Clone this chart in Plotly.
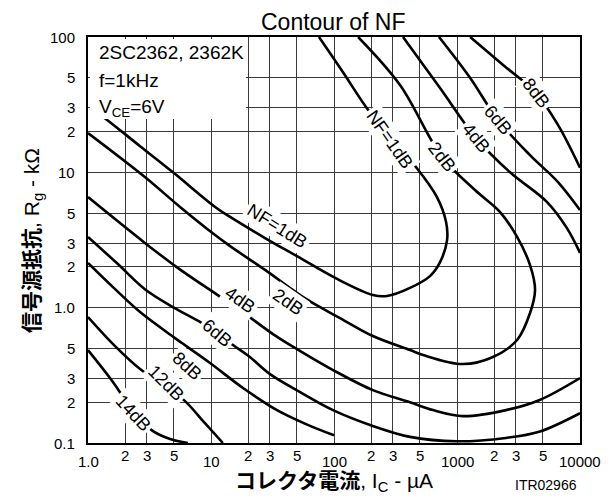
import numpy as np
import plotly.graph_objects as go

# ---- data (Ic in uA, Rg in kOhm) ----
nf1_ic = [1.14, 1.43, 2.65, 4.91, 10.8, 14.3, 27.5, 50.0, 106, 207, 270, 415, 603, 728, 830, 815, 687, 465, 285, 182, 118, 75.5]
nf1_rg = [28.4, 24.4, 15.6, 10.0, 5.55, 4.68, 3.27, 2.40, 1.63, 1.24, 1.22, 1.40, 1.71, 2.17, 3.16, 4.30, 6.56, 10.9, 17.9, 30.4, 55.1, 100]

nf2_ic = [1.0, 2.90, 5.60, 10.8, 14.3, 27.5, 59.2, 112, 207, 415, 530, 1120, 1960, 3080, 3920, 4310, 3920, 3080, 2240, 1400, 755, 344, 157]
nf2_rg = [19.5, 9.23, 5.55, 3.44, 2.85, 1.90, 1.16, 0.838, 0.617, 0.486, 0.447, 0.383, 0.432, 0.577, 0.91, 1.35, 2.07, 3.33, 5.09, 7.40, 13.0, 44.2, 100]

nf4a_ic = [1.0, 2.90, 5.40, 9.27, 17.2, 31.9, 50.0, 98.2, 207, 415, 638, 1120, 2500, 4650, 10000]
nf4a_rg = [6.56, 3.01, 1.96, 1.40, 0.96, 0.638, 0.494, 0.346, 0.246, 0.200, 0.175, 0.158, 0.175, 0.207, 0.302]
nf4b_ic = [364, 728, 1430, 2700, 5400, 7830, 10000]
nf4b_rg = [100, 42.0, 17.9, 10.0, 6.03, 3.87, 2.54]

nf6a_ic = [1.0, 1.75, 2.90, 4.91, 8.45, 11.2, 15.1, 20.7, 30.2, 53.0, 98.2, 196, 415, 1000, 2500, 4650, 10000]
nf6a_rg = [3.33, 2.10, 1.37, 1.01, 0.769, 0.649, 0.530, 0.432, 0.323, 0.238, 0.175, 0.136, 0.111, 0.103, 0.109, 0.121, 0.166]
nf6b_ic = [714, 1280, 2150, 3920, 6620, 10000]
nf6b_rg = [100, 49.8, 24.4, 13.4, 8.47, 5.26]

nf8a_ic = [1.0, 1.66, 2.65, 5.10, 9.82, 18.2, 34.4, 59.2, 100]
nf8a_rg = [2.14, 1.37, 0.928, 0.596, 0.390, 0.255, 0.175, 0.138, 0.114]
nf8b_ic = [1280, 2370, 4390, 6620, 10000]
nf8b_rg = [100, 62.1, 38.5, 22.4, 10.8]

nf12_ic = [1.0, 1.66, 2.65, 4.23, 6.15, 8.93, 12.5]
nf12_rg = [0.853, 0.520, 0.352, 0.264, 0.204, 0.140, 0.100]

nf14_ic = [1.0, 1.51, 2.32, 3.31, 4.65, 6.50]
nf14_rg = [0.486, 0.302, 0.175, 0.124, 0.107, 0.100]

# curve labels: text, Ic, Rg, angle
label_text = ["NF=1dB", "2dB", "4dB", "6dB", "8dB", "NF=1dB", "2dB", "4dB", "6dB", "8dB", "12dB", "14dB"]
label_ic = [285, 755, 1430, 2150, 4390, 34.4, 42.3, 17.2, 11.2, 6.38, 4.31, 2.32]
label_rg = [17.3, 13.0, 17.9, 24.4, 38.5, 4.01, 1.10, 1.14, 0.649, 0.370, 0.277, 0.166]
label_ang = [55, 52, 50, 50, 52, 32, 35, 35, 40, 42, 45, 47]

x_ticks = [1, 2, 3, 5, 10, 20, 30, 50, 100, 200, 300, 500, 1000, 2000, 3000, 5000, 10000]
x_tick_text = ["1.0", "2", "3", "5", "10", "2", "3", "5", "100", "2", "3", "5", "1000", "2", "3", "5", "10000"]
y_ticks = [0.1, 0.2, 0.3, 0.5, 1, 2, 3, 5, 10, 20, 30, 50, 100]
y_tick_text = ["0.1", "2", "3", "5", "1.0", "2", "3", "5", "10", "2", "3", "5", "100"]

FONT = "Liberation Sans, Arial, Noto Sans CJK JP, sans-serif"

fig = go.Figure()
curves = [(nf1_ic, nf1_rg), (nf2_ic, nf2_rg), (nf4a_ic, nf4a_rg), (nf4b_ic, nf4b_rg),
          (nf6a_ic, nf6a_rg), (nf6b_ic, nf6b_rg), (nf8a_ic, nf8a_rg), (nf8b_ic, nf8b_rg),
          (nf12_ic, nf12_rg), (nf14_ic, nf14_rg)]
for xs, ys in curves:
    fig.add_trace(go.Scatter(x=xs, y=ys, mode="lines",
                             line=dict(color="black", width=2.6, shape="spline", smoothing=1.0),
                             showlegend=False, hoverinfo="skip"))

annotations = []
for t, xv, yv, a in zip(label_text, label_ic, label_rg, label_ang):
    annotations.append(dict(x=np.log10(xv), y=np.log10(yv), xref="x", yref="y", text=t,
                            showarrow=False, textangle=a, bgcolor="white", borderpad=2,
                            font=dict(family=FONT, size=18, color="black")))

# tick labels
for v, t in zip(x_ticks, x_tick_text):
    decade = t in ("1.0", "10", "100", "1000", "10000")
    annotations.append(dict(x=np.log10(v), y=-0.045 if decade else -0.032, xref="x", yref="paper",
                            text=t, showarrow=False, xanchor="center", yanchor="middle",
                            font=dict(family=FONT, size=15, color="black")))
for v, t in zip(y_ticks, y_tick_text):
    annotations.append(dict(x=-0.022, y=np.log10(v), xref="paper", yref="y", text=t,
                            showarrow=False, xanchor="right", yanchor="middle",
                            font=dict(family=FONT, size=15, color="black")))

# titles and notes
annotations += [
    dict(x=0.498, y=1.037, xref="paper", yref="paper", text="Contour of NF", showarrow=False,
         xanchor="center", yanchor="middle", borderpad=0,
         font=dict(family=FONT, size=23, color="black")),
    dict(x=0.5, y=-0.097, xref="paper", yref="paper",
         text="<b>コレクタ電流</b>, I<sub>C</sub> - µA", showarrow=False,
         xanchor="center", yanchor="middle", font=dict(family=FONT, size=21, color="black")),
    dict(x=-0.112, y=0.5, xref="paper", yref="paper", textangle=-90,
         text="<b>信号源抵抗</b>, R<sub>g</sub> - kΩ", showarrow=False,
         xanchor="center", yanchor="middle", font=dict(family=FONT, size=21, color="black")),
    dict(x=0.931, y=-0.103, xref="paper", yref="paper", text="ITR02966", showarrow=False,
         xanchor="center", yanchor="middle", font=dict(family=FONT, size=14, color="black")),
    dict(x=0.018, y=0.961, xref="paper", yref="paper", text="2SC2362, 2362K", showarrow=False,
         xanchor="left", yanchor="middle", font=dict(family=FONT, size=19, color="black")),
    dict(x=0.018, y=0.894, xref="paper", yref="paper", text="f=1kHz", showarrow=False,
         xanchor="left", yanchor="middle", font=dict(family=FONT, size=19, color="black")),
    dict(x=0.018, y=0.826, xref="paper", yref="paper", text="V<sub>CE</sub>=6V", showarrow=False,
         xanchor="left", yanchor="middle", font=dict(family=FONT, size=19, color="black")),
]

# page body has an 8px margin, so the figure is sized to fit the 612x499 window
fig.update_layout(
    width=604, height=491,
    margin=dict(l=80, r=32, t=29, b=56),
    paper_bgcolor="white", plot_bgcolor="white",
    annotations=annotations,
    shapes=[dict(type="rect", xref="paper", yref="paper", x0=0.004, x1=0.321, y0=0.798, y1=0.995,
                 fillcolor="white", line=dict(width=0), layer="above")],
)
axis_common = dict(type="log", showticklabels=False, ticks="", showgrid=True,
                   gridcolor="#3a3a3a", gridwidth=1, zeroline=False,
                   showline=True, mirror=True, linecolor="black", linewidth=2)
fig.update_xaxes(range=[0, 4], tickvals=x_ticks, **axis_common)
fig.update_yaxes(range=[-1, 2], tickvals=y_ticks, **axis_common)

fig.write_html("out.html")
